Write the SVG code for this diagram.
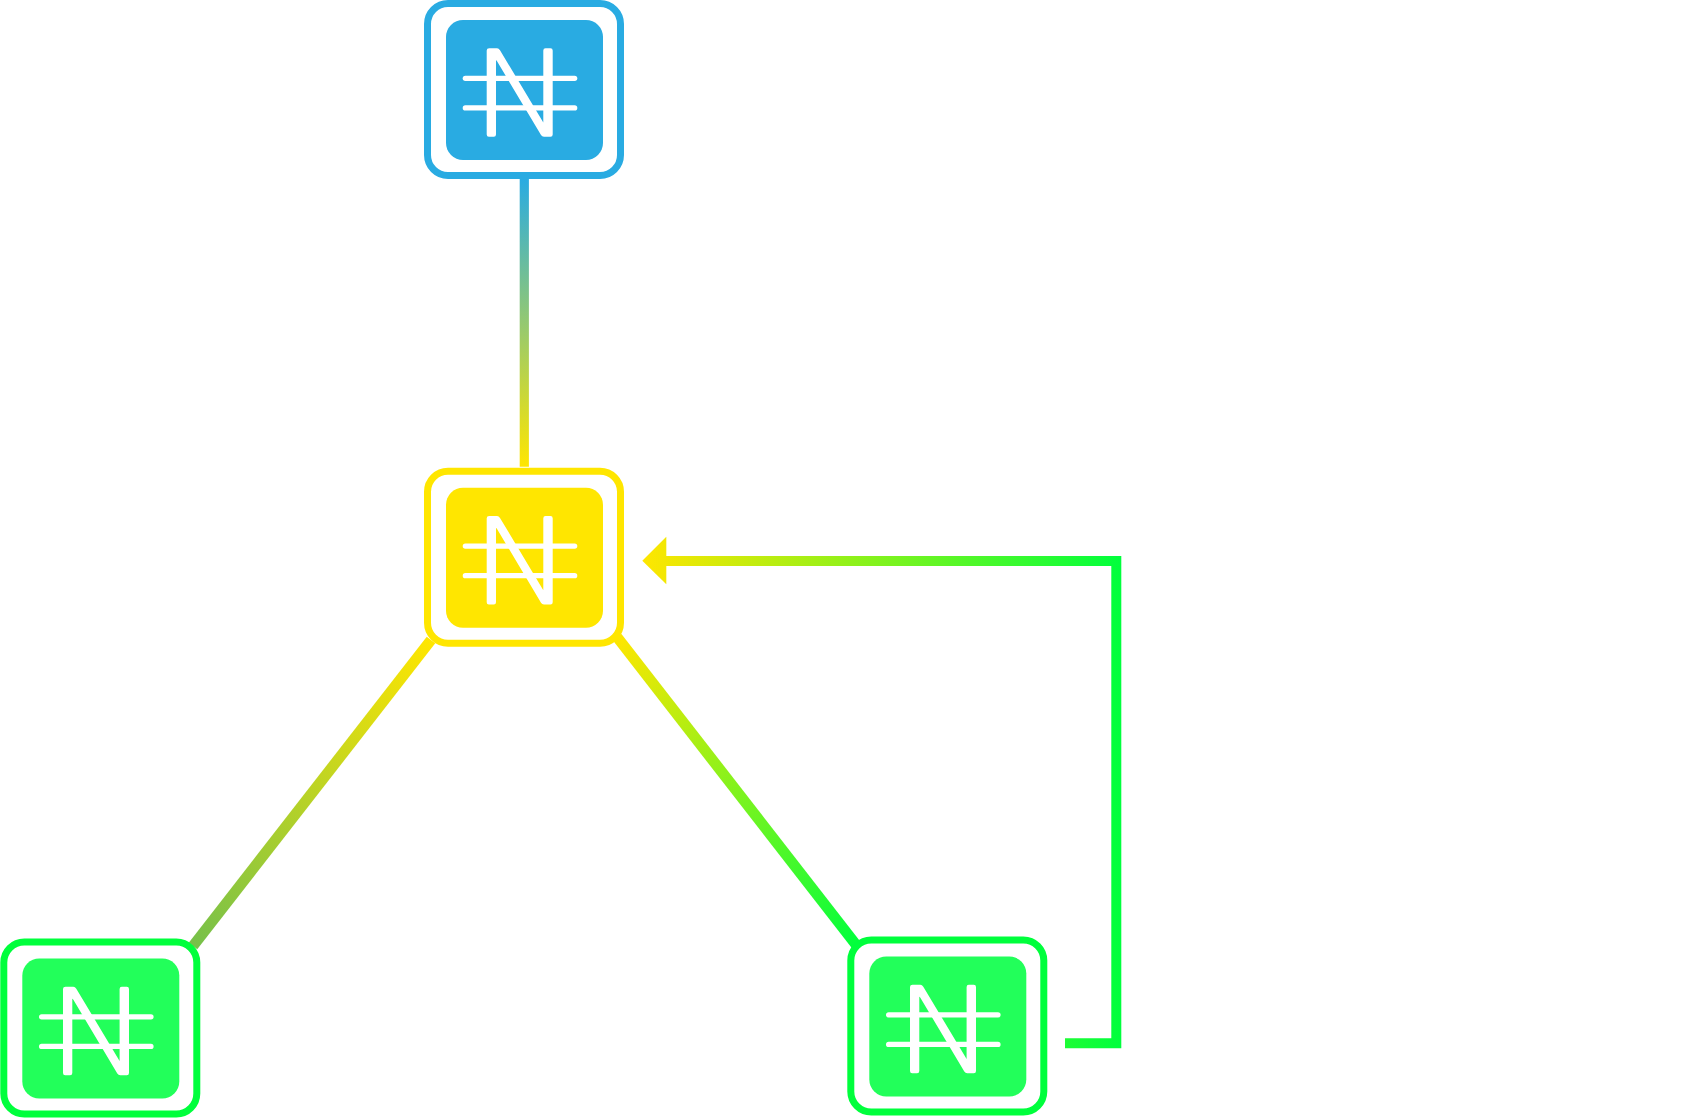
<svg xmlns="http://www.w3.org/2000/svg" width="1695" height="1119" viewBox="0 0 1695 1119">
  <style>
    .ring { fill: #ffffff; stroke-width: 7; stroke: var(--ring); }
    .core { fill: var(--core); }
    .glyph { fill: #ffffff; }
    .edge { fill: none; stroke-width: 10; stroke-linejoin: miter; }
    .diag { stroke-width: 10.8; }
    .stem { stroke-width: 9.2; }
    .blue { --ring: #29abe2; --core: #29abe2; }
    .yellow { --ring: #ffe600; --core: #ffe600; }
    .green { --ring: #00ff3c; --core: #22ff5a; }
  </style>
  <defs>
    <linearGradient id="gTop" gradientUnits="userSpaceOnUse" x1="524" y1="179" x2="524" y2="467">
      <stop offset="0" stop-color="#29abe2"/><stop offset="1" stop-color="#ffe600"/>
    </linearGradient>
    <linearGradient id="gLeft" gradientUnits="userSpaceOnUse" x1="431" y1="640" x2="193" y2="946">
      <stop offset="0" stop-color="#ffe600"/><stop offset="1" stop-color="#76c04a"/>
    </linearGradient>
    <linearGradient id="gRight" gradientUnits="userSpaceOnUse" x1="617" y1="637" x2="857" y2="946">
      <stop offset="0" stop-color="#ffe600"/><stop offset="1" stop-color="#00ff3c"/>
    </linearGradient>
    <linearGradient id="gElbow" gradientUnits="userSpaceOnUse" x1="642" y1="561" x2="1121" y2="561">
      <stop offset="0" stop-color="#ffe600"/><stop offset="1" stop-color="#00ff3c"/>
    </linearGradient>
    <g id="node">
      <rect class="ring" x="427.5" y="3.5" width="193" height="172" rx="20.5" ry="20.5"/>
      <rect class="core" x="446" y="20" width="157" height="140" rx="17" ry="17"/>
      <g class="glyph">
        <path d="M489.2 48.3H497Q498.8 48.3 500 50.2L543.3 122.5V50.5Q543.3 48.3 545.5 48.3H550.5Q552.7 48.3 552.7 50.5V134.5Q552.7 136.7 550.5 136.7H544Q542 136.7 541 135L496.6 60.5Q496 59.8 496 61.5V134.5Q496 136.7 493.8 136.7H488.9Q486.7 136.7 486.7 134.5V50.5Q486.7 48.3 489.2 48.3Z"/>
        <rect x="462.7" y="75.7" width="114.6" height="5.3" rx="2.65"/>
        <rect x="462.7" y="105.3" width="114.6" height="5.3" rx="2.65"/>
      </g>
    </g>
  </defs>
  <g id="connectors">
    <line class="edge stem" x1="524.3" y1="176" x2="524.3" y2="466.8" stroke="url(#gTop)"/>
    <line class="edge diag" x1="431" y1="640" x2="193" y2="946" stroke="url(#gLeft)"/>
    <line class="edge diag" x1="617" y1="637" x2="857" y2="946" stroke="url(#gRight)"/>
    <path class="edge" d="M1065 1043.3H1116.3V561H666" stroke="url(#gElbow)"/>
    <polygon points="642.3,560.7 666.3,536.7 666.3,584.3" fill="url(#gElbow)"/>
  </g>
  <g id="node-top" class="blue"><use href="#node"/></g>
  <g id="node-middle" class="yellow" transform="translate(0 467.7)"><use href="#node"/></g>
  <g id="node-left" class="green" transform="translate(-423.7 938.5)"><use href="#node"/></g>
  <g id="node-right" class="green" transform="translate(423.3 936.5)"><use href="#node"/></g>
</svg>
